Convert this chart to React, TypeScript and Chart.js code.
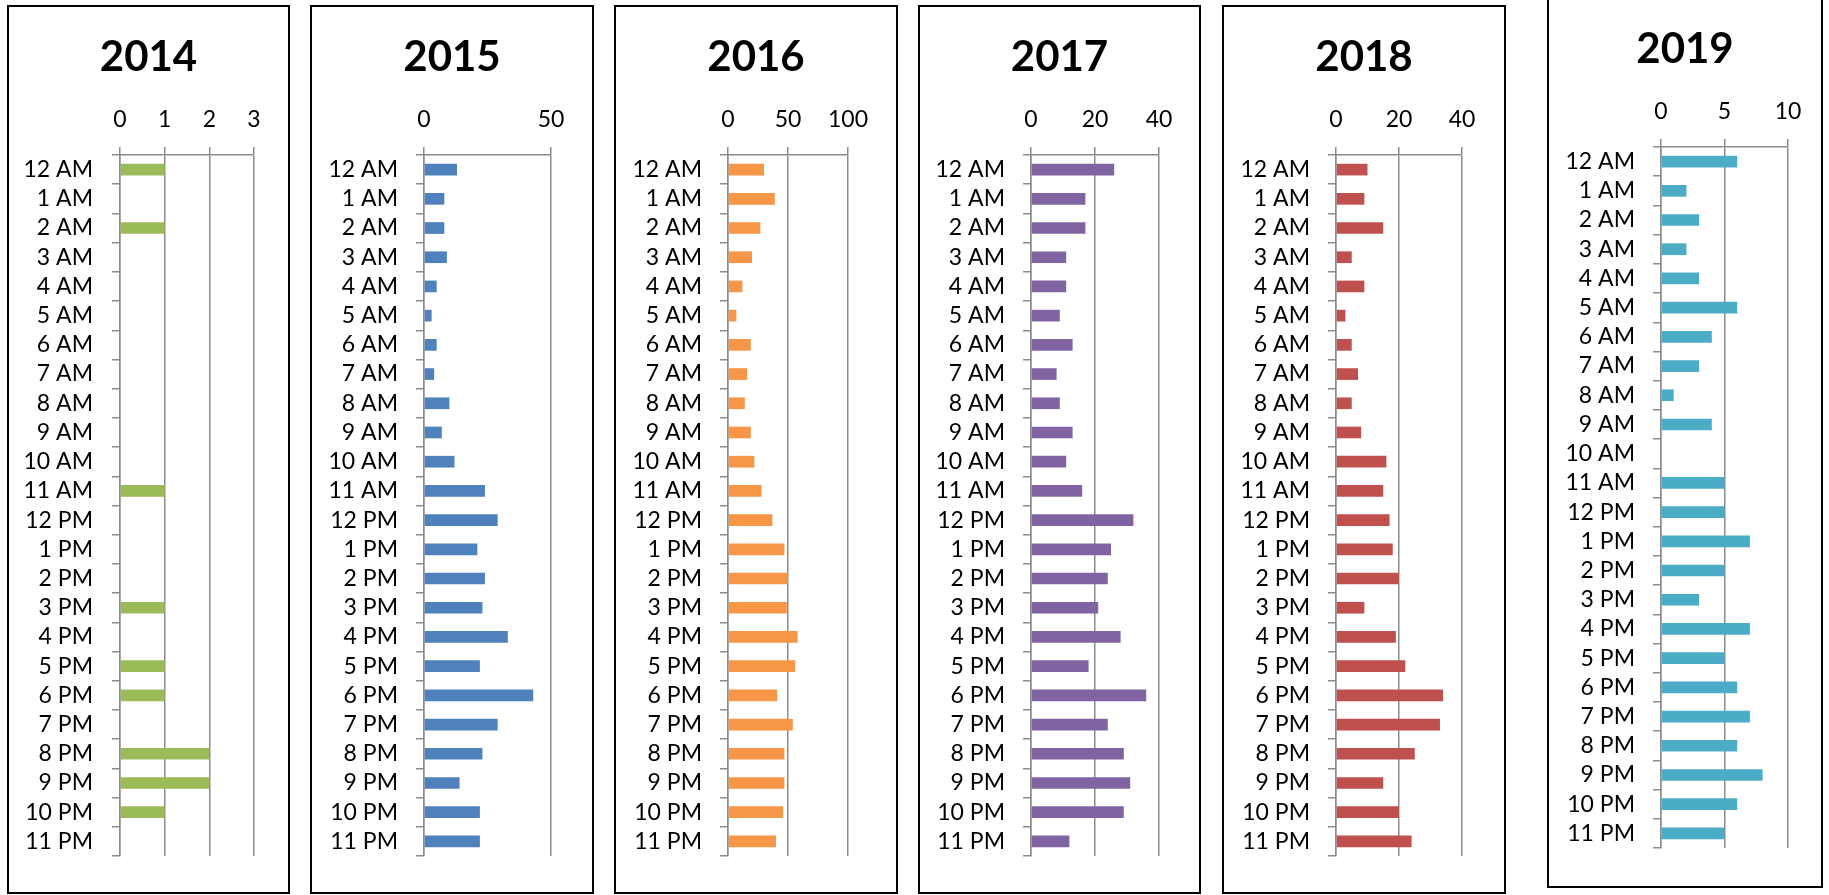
import React, { useEffect, useRef } from 'react';
import { Chart, registerables } from 'chart.js';

Chart.register(...registerables);

// ---------- data ----------
const hours = [
  '12 AM', '1 AM', '2 AM', '3 AM', '4 AM', '5 AM', '6 AM', '7 AM', '8 AM', '9 AM', '10 AM', '11 AM',
  '12 PM', '1 PM', '2 PM', '3 PM', '4 PM', '5 PM', '6 PM', '7 PM', '8 PM', '9 PM', '10 PM', '11 PM',
];
const years = ['2014', '2015', '2016', '2017', '2018', '2019'];
const values2014 = [1, 0, 1, 0, 0, 0, 0, 0, 0, 0, 0, 1, 0, 0, 0, 1, 0, 1, 1, 0, 2, 2, 1, 0];
const values2015 = [13, 8, 8, 9, 5, 3, 5, 4, 10, 7, 12, 24, 29, 21, 24, 23, 33, 22, 43, 29, 23, 14, 22, 22];
const values2016 = [30, 39, 27, 20, 12, 7, 19, 16, 14, 19, 22, 28, 37, 47, 50, 49, 58, 56, 41, 54, 47, 47, 46, 40];
const values2017 = [26, 17, 17, 11, 11, 9, 13, 8, 9, 13, 11, 16, 32, 25, 24, 21, 28, 18, 36, 24, 29, 31, 29, 12];
const values2018 = [10, 9, 15, 5, 9, 3, 5, 7, 5, 8, 16, 15, 17, 18, 20, 9, 19, 22, 34, 33, 25, 15, 20, 24];
const values2019 = [6, 2, 3, 2, 3, 6, 4, 3, 1, 4, 0, 5, 5, 7, 5, 3, 7, 5, 6, 7, 6, 8, 6, 5];
const seriesValues = [values2014, values2015, values2016, values2017, values2018, values2019];
const axisMax = [3, 50, 100, 40, 40, 10];
const axisStep = [1, 50, 50, 20, 20, 5];

// ---------- styles / layout ----------
const barColors = ['#9BBB59', '#4F81BD', '#F79646', '#8064A2', '#C0504D', '#4BACC6'];
const FONT = 'Lato, "Open Sans", sans-serif';
const GRID = '#8c8c8c';
const BORDER = 2;

// box-local coordinates (outer box edge)
const panelLayout = [
  { left: 7, top: 5, width: 283, height: 889, axisLeft: 113, axisRight: 247, labelPad: 19 },
  { left: 310, top: 5, width: 284, height: 889, axisLeft: 114, axisRight: 241, labelPad: 18 },
  { left: 614, top: 5, width: 284, height: 889, axisLeft: 114, axisRight: 234, labelPad: 18 },
  { left: 918, top: 5, width: 283, height: 889, axisLeft: 113, axisRight: 241, labelPad: 18 },
  { left: 1222, top: 5, width: 284, height: 889, axisLeft: 114, axisRight: 240, labelPad: 18 },
  { left: 1547, top: -3, width: 276, height: 891, axisLeft: 114, axisRight: 241, labelPad: 18 },
];
const PLOT_TOP = 150;
const PLOT_BOTTOM = 851;
const TITLE_Y = 52;
const TICK_Y = 115;
const TITLE_SIZE = 42;
const TICK_SIZE = 23;
const TICK_LEN = 8;

function Panel({ index }: { index: number }) {
  const ref = useRef<HTMLCanvasElement | null>(null);
  const lay = panelLayout[index];
  const cw = lay.width - 2 * BORDER;
  const ch = lay.height - 2 * BORDER;

  useEffect(() => {
    if (!ref.current) return;
    const plotTop = PLOT_TOP - BORDER;
    const plotBottom = PLOT_BOTTOM - BORDER;
    const titleY = TITLE_Y - BORDER;
    const tickY = TICK_Y - BORDER;
    const titleLine = TITLE_SIZE * 1.2;
    const titlePadTop = titleY - titleLine / 2;
    const titleBlock = titlePadTop + titleLine;
    const xAxisH = plotTop - titleBlock;
    const tickLine = TICK_SIZE * 1.2;
    const xTickPad = plotTop - TICK_LEN - tickLine / 2 - tickY;
    const yAxisW = lay.axisLeft - BORDER;
    const rightW = cw - (lay.axisRight - BORDER);

    const chart = new Chart(ref.current, {
      type: 'bar',
      data: {
        labels: hours,
        datasets: [
          {
            label: years[index],
            data: seriesValues[index],
            backgroundColor: barColors[index],
            borderWidth: 0,
            barPercentage: 0.4,
            categoryPercentage: 1.0,
          },
        ],
      },
      options: {
        indexAxis: 'y',
        responsive: false,
        animation: false,
        devicePixelRatio: 1,
        layout: { padding: { left: 0, right: 0, top: 0, bottom: ch - plotBottom } },
        plugins: {
          legend: { display: false },
          tooltip: { enabled: false },
          title: {
            display: true,
            text: years[index],
            color: '#000',
            font: { family: FONT, size: TITLE_SIZE, weight: 'bold', lineHeight: 1.2 },
            padding: { top: titlePadTop, bottom: 0 },
          },
        },
        scales: {
          x: {
            type: 'linear',
            position: 'top',
            min: 0,
            max: axisMax[index],
            ticks: {
              stepSize: axisStep[index],
              color: '#000',
              font: { family: FONT, size: TICK_SIZE, lineHeight: 1.2 },
              padding: xTickPad,
              maxRotation: 0,
            },
            grid: { color: GRID, lineWidth: 1.5, tickLength: TICK_LEN },
            border: { color: GRID, width: 1.5 },
            afterFit: (s: any) => {
              s.height = xAxisH;
            },
          },
          y: {
            type: 'category',
            position: 'left',
            ticks: {
              color: '#000',
              autoSkip: false,
              font: { family: FONT, size: TICK_SIZE, lineHeight: 1.2 },
              padding: lay.labelPad,
            },
            grid: { drawOnChartArea: false, color: GRID, lineWidth: 1.5, tickLength: TICK_LEN, offset: true },
            border: { color: GRID, width: 1.5 },
            afterFit: (s: any) => {
              s.width = yAxisW;
            },
          },
          yRight: {
            type: 'linear',
            axis: 'y',
            position: 'right',
            display: true,
            ticks: { display: false },
            grid: { display: false },
            border: { display: false },
            afterFit: (s: any) => {
              s.width = rightW;
            },
          },
        },
      } as any,
    });
    return () => chart.destroy();
  }, [index]);

  return (
    <div
      style={{
        position: 'absolute',
        left: lay.left,
        top: lay.top,
        width: lay.width,
        height: lay.height,
        boxSizing: 'border-box',
        border: `${BORDER}px solid #000`,
        background: '#fff',
      }}
    >
      <canvas ref={ref} width={cw} height={ch} style={{ display: 'block', width: cw, height: ch }} />
    </div>
  );
}

export default function App() {
  return (
    <div
      style={{
        position: 'fixed',
        left: 0,
        top: 0,
        width: 1829,
        height: 895,
        overflow: 'hidden',
        background: '#fff',
      }}
    >
      {years.map((y, i) => (
        <Panel key={y} index={i} />
      ))}
    </div>
  );
}
